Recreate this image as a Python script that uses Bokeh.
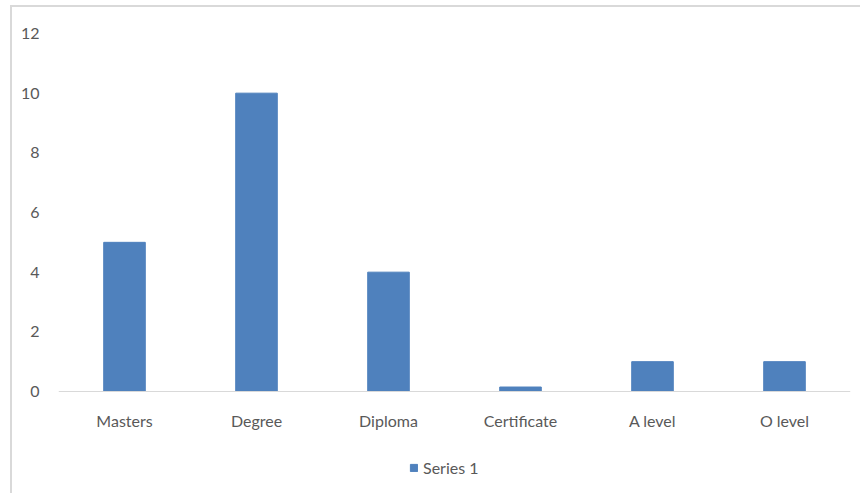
from bokeh.plotting import figure
from bokeh.models import ColumnDataSource, Legend, LegendItem, FixedTicker, Range1d
from bokeh.embed import file_html
from bokeh.resources import INLINE

categories = ["Masters", "Degree", "Diploma", "Certificate", "A level", "O level"]
values = [5, 10, 4, 0.15, 1, 1]
y_ticks = [0, 2, 4, 6, 8, 10, 12]
series_name = "Series 1"

FONT = "Lato"
TEXT = "#595959"
BAR = "#4F81BD"
FS = "16px"

src = ColumnDataSource(dict(cat=categories, val=values))

# canvas starts at (12, 7) in the window because of the CSS margin + border;
# the frame runs to the bottom so that the legend can sit below the x axis
p = figure(
    x_range=categories, y_range=Range1d(-3.486, 12),
    width=850, height=488,
    output_backend="svg", toolbar_location=None,
    min_border_left=46, min_border_right=12,
    min_border_top=26, min_border_bottom=0,
)
p.styles = {"margin-left": "10px", "margin-top": "5px",
            "border-left": "2px solid #D9D9D9", "border-top": "2px solid #D9D9D9"}
p.outline_line_color = None
p.grid.visible = False
p.background_fill_color = "white"
p.border_fill_color = "white"

r = p.vbar(x="cat", top="val", width=0.315, source=src,
           fill_color=BAR, line_color=BAR)

p.yaxis.ticker = FixedTicker(ticks=y_ticks)
p.yaxis.axis_line_color = None
p.yaxis.major_tick_line_color = None
p.yaxis.minor_tick_line_color = None
p.yaxis.major_label_text_font = FONT
p.yaxis.major_label_text_font_size = FS
p.yaxis.major_label_text_color = TEXT
p.yaxis.major_label_standoff = 13

p.xaxis.fixed_location = 0
p.xaxis.axis_line_color = "#D9D9D9"
p.xaxis.axis_line_width = 1
p.xaxis.major_tick_line_color = None
p.xaxis.minor_tick_line_color = None
p.xaxis.major_label_text_font = FONT
p.xaxis.major_label_text_font_size = FS
p.xaxis.major_label_text_color = TEXT
p.xaxis.major_label_standoff = 13

legend = Legend(items=[LegendItem(label=series_name, renderers=[r])],
                orientation="horizontal", location=(351, 18),
                label_text_font=FONT, label_text_font_size=FS,
                label_text_color=TEXT, glyph_width=9, glyph_height=9,
                border_line_color=None, background_fill_alpha=0,
                padding=0, margin=0, spacing=0, label_standoff=5)
p.add_layout(legend, "center")

open("out.html", "w").write(file_html(p, INLINE))
